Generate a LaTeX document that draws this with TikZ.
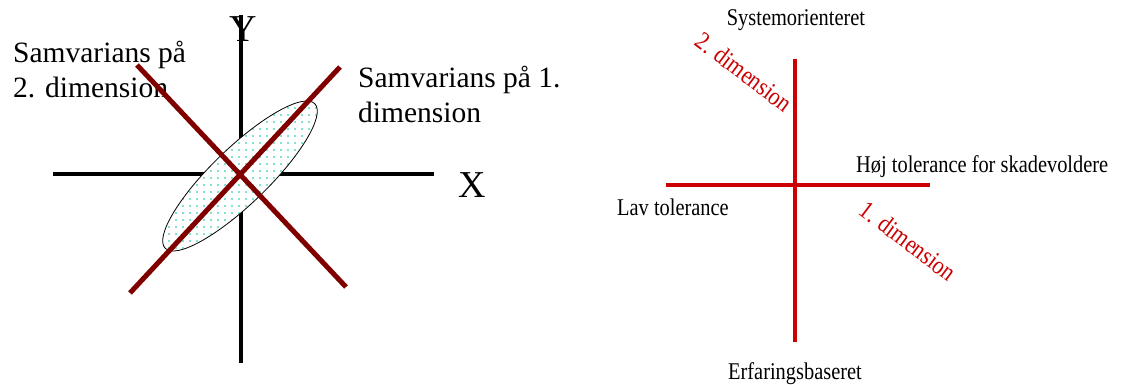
\documentclass[tikz,border=0pt]{standalone}
\usepackage{fontspec}
\setmainfont{Liberation Serif}
\newfontfamily\narrowfont[FakeStretch=0.85]{Liberation Serif}
\usetikzlibrary{shapes.geometric,patterns.meta}
\definecolor{lineRed}{HTML}{800000}
\definecolor{dimRed}{HTML}{CC0000}
\definecolor{dotTeal}{HTML}{00C89A}
\begin{document}
\begin{tikzpicture}[x=1pt,y=-1pt,
    every node/.style={inner sep=0pt},
    axis/.style={line width=4pt},
    corrline/.style={line width=5pt, draw=lineRed},
    dimline/.style={line width=4pt, draw=dimRed},
    bigtext/.style={font=\fontsize{29.5}{35}\selectfont, align=left},
    axislabel/.style={font=\fontsize{38}{40}\selectfont},
    poletext/.style={font=\narrowfont\fontsize{24}{26}\selectfont},
    dimtext/.style={font=\narrowfont\fontsize{25.5}{27}\selectfont, text=dimRed, rotate=-37}]
  \useasboundingbox (0,0) rectangle (1128,385);
  \coordinate (xleft) at (53,174);
  \coordinate (xright) at (434,174);
  \coordinate (ytop) at (241,15);
  \coordinate (ybottom) at (241,363);
  \draw[axis] (xleft) -- (xright);
  \draw[axis] (ytop) -- (ybottom);
  \node[draw, ellipse, line width=0.8pt, minimum width=208pt, minimum height=56pt,
    rotate=44, preaction={fill=white},
    pattern={Dots[distance=6.5pt,radius=0.9pt]}, pattern color=dotTeal]
    (spread) at (240,176) {};
  \node[axislabel, anchor=base] (ylabel) at (243,42) {Y};
  \node[axislabel, anchor=base] (xlabel) at (472,198) {X};
  \node[bigtext, anchor=north west] (second) at (13,41) {Samvarians på\\2. dimension};
  \node[bigtext, anchor=north west] (first) at (358,66) {Samvarians på 1.\\dimension};
  \coordinate (firstlow) at (130,293);
  \coordinate (firsthigh) at (340,67);
  \coordinate (secondhigh) at (137,65);
  \coordinate (secondlow) at (346,287);
  \draw[corrline] (firstlow) -- (firsthigh);
  \draw[corrline] (secondhigh) -- (secondlow);
  \coordinate (hleft) at (666,185);
  \coordinate (hright) at (930,185);
  \coordinate (vtop) at (795,59);
  \coordinate (vbottom) at (795,342);
  \draw[dimline] (hleft) -- (hright);
  \draw[dimline] (vtop) -- (vbottom);
  \node[poletext, anchor=base] (system) at (796,26) {Systemorienteret};
  \node[poletext, anchor=base] (erfaring) at (795,379) {Erfaringsbaseret};
  \node[poletext, anchor=base west] (hoej) at (856,173) {Høj tolerance for skadevoldere};
  \node[poletext, anchor=base west] (lav) at (617,215) {Lav tolerance};
  \node[dimtext] (dimtwo) at (744,72) {2. dimension};
  \node[dimtext] (dimone) at (908,241) {1. dimension};
\end{tikzpicture}
\end{document}
